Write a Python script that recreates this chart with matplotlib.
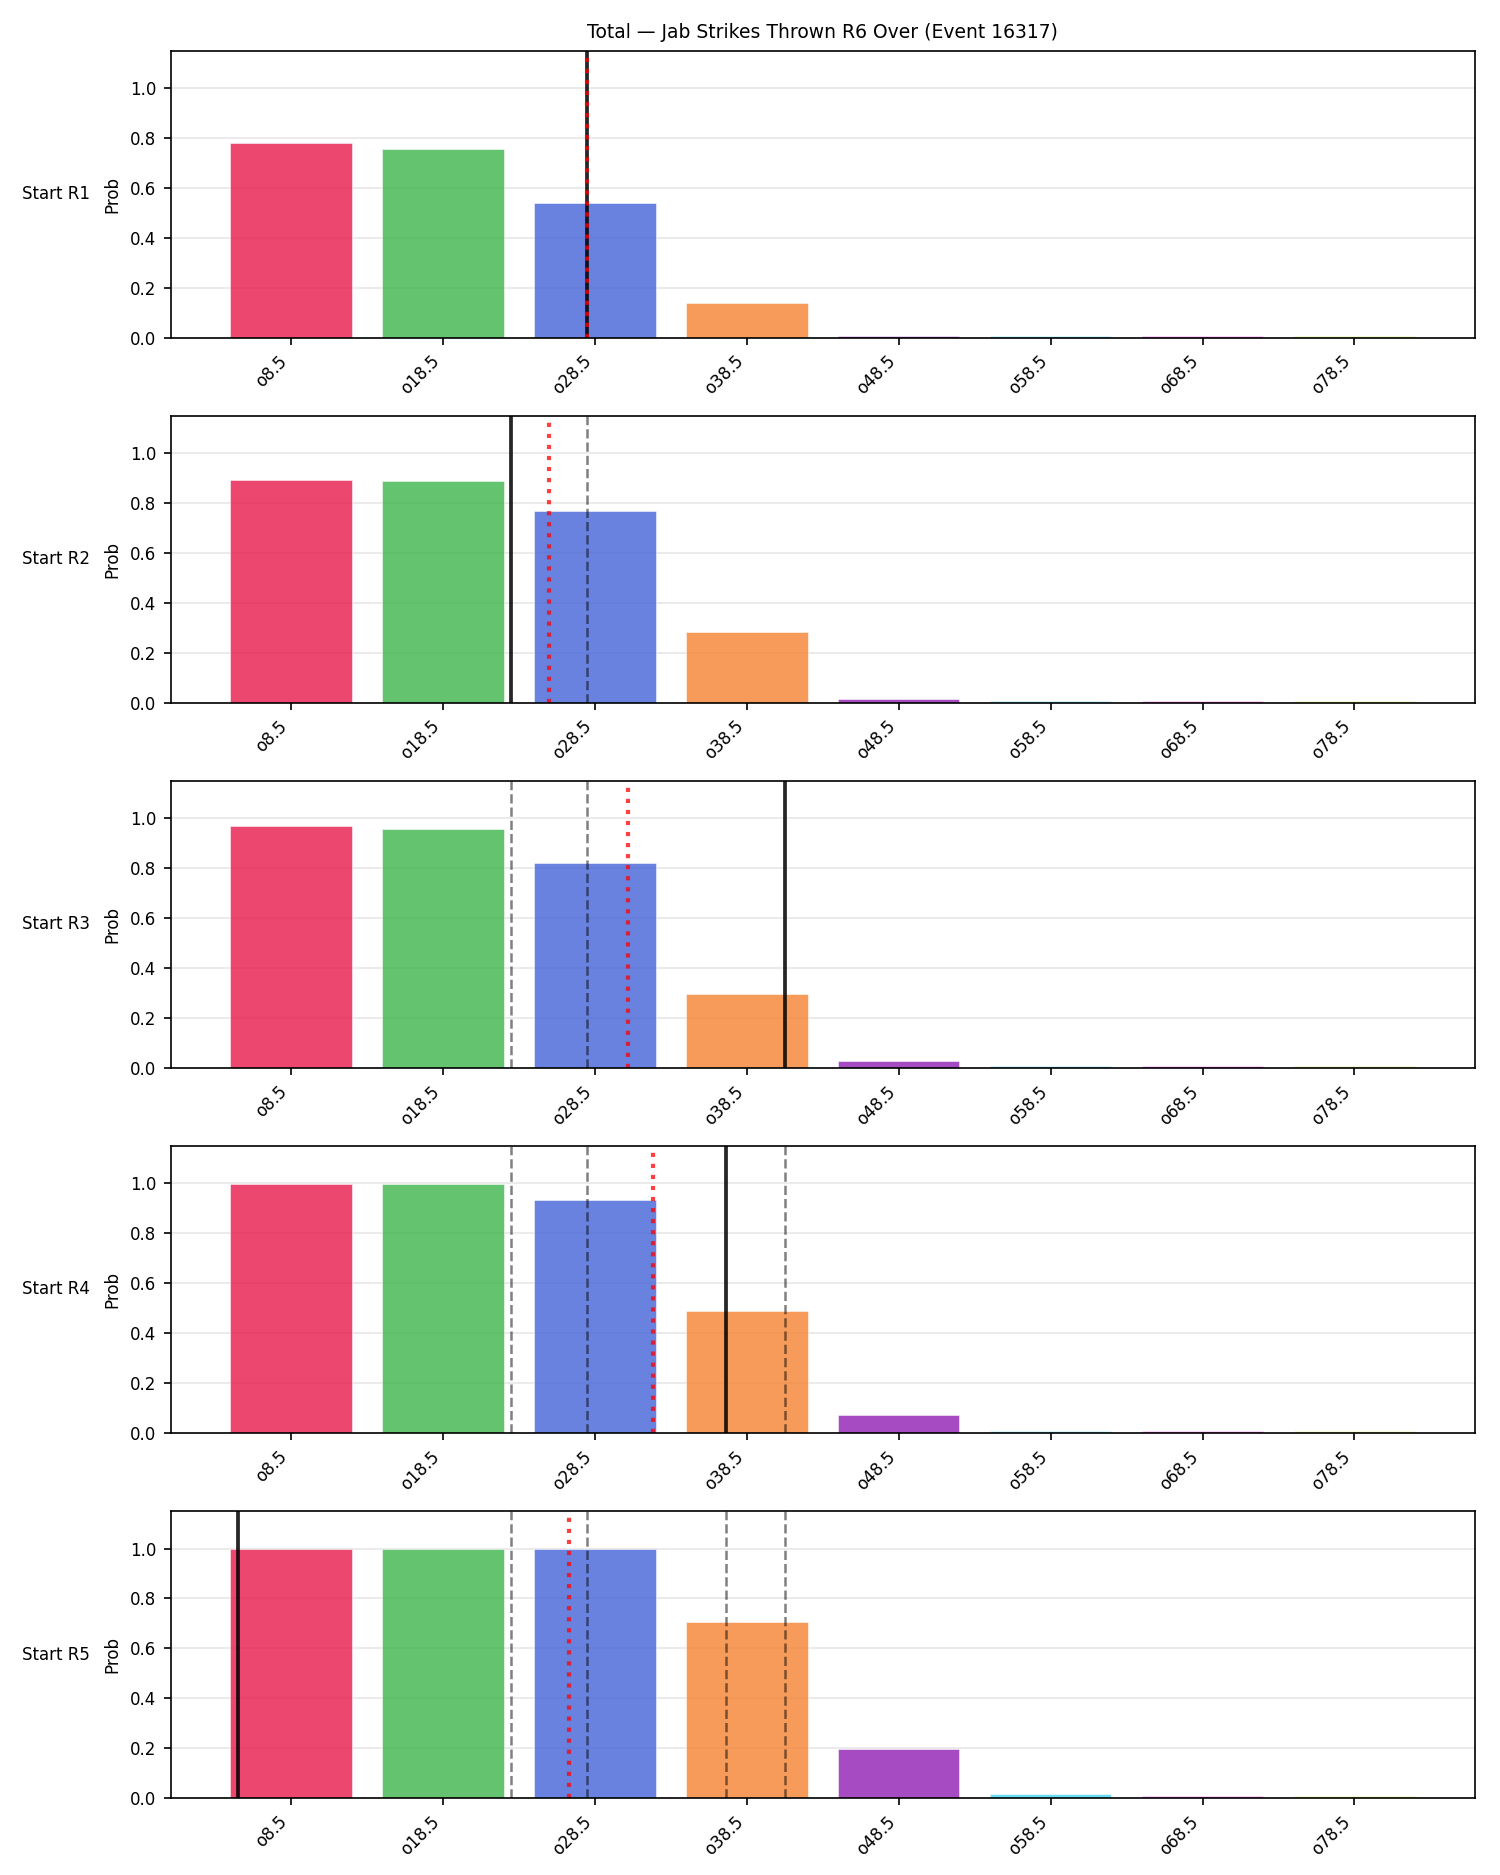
import matplotlib
matplotlib.use("Agg")
import matplotlib.pyplot as plt
import numpy as np

title = "Total \u2014 Jab Strikes Thrown R6 Over (Event 16317)"
lines = [8.5, 18.5, 28.5, 38.5, 48.5, 58.5, 68.5, 78.5]
tick_labels = ["o8.5", "o18.5", "o28.5", "o38.5", "o48.5", "o58.5", "o68.5", "o78.5"]
colors = ["#e6194b", "#3cb44b", "#4363d8", "#f58231", "#911eb4", "#42d4f4", "#f032e6", "#bfef45"]
rounds = ["Start R1", "Start R2", "Start R3", "Start R4", "Start R5"]

probs_r1 = [0.779, 0.755, 0.538, 0.139, 0.008, 0.008, 0.008, 0.007]
probs_r2 = [0.894, 0.889, 0.769, 0.284, 0.016, 0.008, 0.008, 0.008]
probs_r3 = [0.971, 0.957, 0.822, 0.298, 0.027, 0.008, 0.008, 0.007]
probs_r4 = [0.998, 0.997, 0.935, 0.490, 0.072, 0.008, 0.008, 0.007]
probs_r5 = [0.999, 0.999, 0.998, 0.707, 0.197, 0.016, 0.008, 0.008]
probs = [probs_r1, probs_r2, probs_r3, probs_r4, probs_r5]

# projected total (black), expected (red dotted), earlier projections (grey dashed)
projected = [28.0, 23.0, 41.0, 37.1, 5.0]
expected = [28.0, 25.5, 30.7, 32.3, 26.8]


def to_pos(v):
    # map strike count onto bar index axis
    return (v - lines[0]) / (lines[1] - lines[0])


fig, axes = plt.subplots(5, 1, figsize=(10, 12.5), dpi=150)
fig.subplots_adjust(left=0.114, right=0.983, top=0.973, bottom=0.041, hspace=0.272)

x = np.arange(len(lines))
for i, ax in enumerate(axes):
    ax.bar(x, probs[i], color=colors, alpha=0.8, edgecolor="white", linewidth=0.3, width=0.8)
    for prev in projected[:i]:
        ax.axvline(to_pos(prev), color="black", linestyle="--", linewidth=1.2, alpha=0.5)
    ax.axvline(to_pos(projected[i]), color="black", linewidth=1.8, alpha=0.85)
    ax.axvline(to_pos(expected[i]), color="red", linestyle=":", linewidth=2, alpha=0.75)
    ax.set_ylim(0, 1.15)
    ax.set_xticks(x)
    ax.set_xticklabels(tick_labels, rotation=45, ha="right", fontsize=8)
    ax.tick_params(axis="y", labelsize=8)
    ax.set_ylabel("Prob", fontsize=8)
    ax.grid(axis="y", alpha=0.3)
    ax.set_axisbelow(True)
    ax.text(-0.062, 0.5, rounds[i], transform=ax.transAxes, ha="right", va="center", fontsize=8)

axes[0].set_title(title, fontsize=9)

fig.savefig("out.png", dpi=150)
